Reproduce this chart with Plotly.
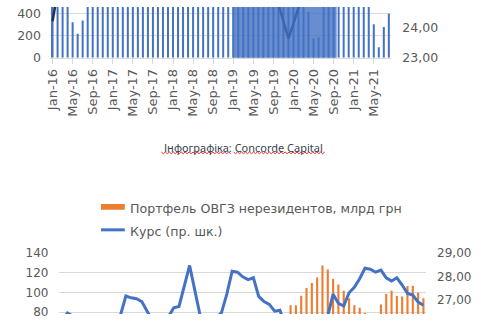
import plotly.graph_objects as go
import pandas as pd

W, H = 493, 321

# ---------------- data: upper chart (cut off at the top) ----------------
top_months = [d.strftime("%b-%y") for d in pd.date_range("2016-01-01", "2021-08-01", freq="MS")]
top_bars = [
    560, 600, 620, 580, 322, 217, 339, 600, 640, 650, 620, 700,   # 2016
    680, 660, 700, 720, 690, 710, 700, 720, 740, 760, 780, 800,   # 2017
    760, 740, 720, 700, 720, 740, 760, 780, 800, 780, 760, 740,   # 2018
    720, 700, 720, 740, 760, 780, 800, 780, 760, 740, 720, 700,   # 2019
    680, 660, 600, 417, 174, 183, 560, 600, 640, 660, 680, 700,   # 2020
    720, 700, 680, 620, 304, 96, 278, 400,                        # 2021
]
top_rate = [
    24.23, 24.90, 26.20, 25.90, 25.20, 25.00, 25.00, 25.10, 26.00, 25.80, 25.60, 26.20,
    27.10, 27.00, 27.00, 26.80, 26.50, 26.10, 26.00, 25.70, 26.00, 26.30, 26.60, 27.50,
    28.50, 27.10, 26.30, 26.20, 26.10, 26.20, 26.20, 27.40, 28.10, 28.20, 27.90, 27.70,
    27.90, 27.30, 27.00, 26.90, 26.60, 26.50, 25.70, 25.30, 25.00, 24.80, 24.20, 23.65,
    24.15, 24.70, 26.90, 27.00, 26.90, 26.70, 27.30, 27.50, 28.00, 28.30, 28.30, 28.30,
    28.20, 27.90, 27.70, 27.90, 27.50, 27.30, 27.30, 26.90,
]

# ---------------- data: lower chart (cut off at the bottom) ----------------
bot_months = [d.strftime("%b-%y") for d in pd.date_range("2016-01-01", "2021-09-01", freq="MS")]
bot_portfolio = [
    2, 2, 2, 2, 2, 2, 2, 2, 2, 2, 2, 2,                # 2016
    2, 2, 2, 2, 2, 2, 2, 2, 3, 3, 3, 3,                # 2017
    4, 4, 5, 5, 5, 6, 6, 6, 7, 7, 7, 7,                # 2018
    14, 20, 28, 42, 51, 60, 70, 87.0, 87.2, 96.8, 104.5, 109.6,   # 2019
    115.2, 127.4, 123.3, 113.9, 108.1, 101.7, 94.3, 87.2, 84.6, 79.3, 75, 73,  # 2020
    87.8, 98.5, 101.7, 96.5, 95.9, 106.5, 106.8, 100.1, 94.3,              # 2021
]
bot_rate = [
    26.10, 26.43, 26.30, 25.50, 25.10, 24.90, 24.80, 24.90, 25.80, 25.70, 25.90, 26.35,
    27.16, 27.08, 27.04, 26.92, 26.51, 26.10, 26.00, 25.90, 26.27, 26.65, 26.71, 27.55,
    28.47, 27.38, 26.30, 26.20, 26.10, 26.20, 26.45, 27.24, 28.22, 28.18, 27.98, 27.86,
    27.94, 27.14, 26.92, 26.80, 26.51, 26.55, 25.60, 25.20, 25.00, 24.60, 24.20, 23.70,
    24.10, 24.70, 26.30, 27.24, 26.84, 26.73, 27.30, 27.53, 27.90, 28.35, 28.31, 28.18,
    28.27, 27.94, 27.80, 27.94, 27.63, 27.27, 27.20, 26.90, 26.76,
]

legend_bar = "Портфель ОВГЗ нерезидентов, млрд грн"
legend_line = "Курс (пр. шк.)"
caption = "Інфографіка: Concorde Capital"

FONT = "DejaVu Sans"
GRAY = "#595959"
GRID = "#d9d9d9"


def px(x):
    return x / W


def py(y):
    return 1 - y / H


fig = go.Figure()
fig.add_trace(go.Bar(x=top_months, y=top_bars, marker_color="#4472c4",
                     marker_line_width=0, xaxis="x", yaxis="y", showlegend=False))
fig.add_trace(go.Scatter(x=top_months, y=top_rate, mode="lines",
                         line=dict(color="#253352", width=2.5),
                         xaxis="x", yaxis="y2", showlegend=False))
fig.add_trace(go.Bar(x=bot_months, y=bot_portfolio, marker_color="#ed7d31",
                     marker_line_width=0, xaxis="x2", yaxis="y3", showlegend=False))
fig.add_trace(go.Scatter(x=bot_months, y=bot_rate, mode="lines",
                         line=dict(color="#4472c4", width=3),
                         xaxis="x2", yaxis="y4", showlegend=False))

tick_font = dict(family=FONT, size=12, color=GRAY)

shapes = [
    # highlight over the upper chart
    dict(type="rect", xref="x", yref="y domain", x0=35.9, x1=56.6, y0=0, y1=1,
         fillcolor="rgba(68,114,196,0.8)", line_width=0, layer="above"),
    # custom legend swatches
    dict(type="rect", xref="paper", yref="paper", x0=px(97), x1=px(121),
         y0=py(212), y1=py(206), fillcolor="#ed7d31", line_width=0),
    dict(type="line", xref="paper", yref="paper", x0=px(97), x1=px(121),
         y0=py(233), y1=py(233), line=dict(color="#4472c4", width=3)),
]

# spell-check style wavy underline under the caption
for x0, x1 in [(158, 228), (231, 323)]:
    pts = []
    x = x0
    k = 0
    while x <= x1:
        yy = 152.5 + (0.9 if k % 2 else -0.9)
        pts.append(f"{px(x):.5f},{py(yy):.5f}")
        x += 2
        k += 1
    path = "M " + " L ".join(pts)
    shapes.append(dict(type="path", xref="paper", yref="paper", path=path,
                       line=dict(color="#e03030", width=1)))

annotations = [
    dict(text=legend_bar, xref="paper", yref="paper", x=px(124), y=py(210.5),
         xanchor="left", yanchor="middle", showarrow=False,
         font=dict(family=FONT, size=12.6, color=GRAY)),
    dict(text=legend_line, xref="paper", yref="paper", x=px(124), y=py(234.5),
         xanchor="left", yanchor="middle", showarrow=False,
         font=dict(family=FONT, size=12.6, color=GRAY)),
    dict(text=caption, xref="paper", yref="paper", x=px(240.5), y=py(147),
         xanchor="center", yanchor="middle", showarrow=False,
         font=dict(family="Noto Sans", size=11, color="#3a3f4e")),
]

fig.update_layout(
    width=W, height=H,
    margin=dict(l=0, r=0, t=0, b=0),
    paper_bgcolor="white", plot_bgcolor="white",
    separators=", ",
    bargap=0.6,
    showlegend=False,
    shapes=shapes,
    annotations=annotations,
    xaxis=dict(domain=[px(45.5), px(390.3)], anchor="y", type="category",
               range=[-0.5, 67.5], tickmode="array", tickvals=top_months[::4],
               tickangle=-90, ticks="outside", ticklen=5, tickcolor=GRID,
               showline=True, linecolor=GRID, showgrid=False,
               tickfont=dict(family=FONT, size=13, color=GRAY)),
    yaxis=dict(domain=[py(53), 1], anchor="x", range=[0, 461],
               tickvals=[0, 200, 400], showgrid=True, gridcolor=GRID,
               zeroline=False, ticks="", ticklabelstandoff=8,
               tickfont=dict(family=FONT, size=12.5, color=GRAY)),
    yaxis2=dict(overlaying="y", anchor="x", side="right",
                range=[23, 23 + 53 / 31], tickvals=[23, 24], tickformat=".2f",
                showgrid=False, zeroline=False, ticks="", ticklabelstandoff=10,
                tickfont=dict(family=FONT, size=12.5, color=GRAY)),
    xaxis2=dict(domain=[px(55), px(425.4)], anchor="y3", type="category",
                range=[-0.5, 68.5], showticklabels=False, showgrid=False,
                ticks="", showline=False),
    yaxis3=dict(domain=[0, 64 / H], anchor="x2", range=[78.2, 140.3],
                tickvals=[80, 100, 120, 140], showgrid=True, gridcolor=GRID,
                zeroline=False, ticks="", ticklabelstandoff=10, tickfont=tick_font),
    yaxis4=dict(overlaying="y3", anchor="x2", side="right",
                range=[27 - 15 / 24.5, 27 + 49.3 / 24.5], tickvals=[27, 28, 29],
                tickformat=".2f", showgrid=False, zeroline=False, ticks="",
                ticklabelstandoff=10, tickfont=tick_font),
)

fig.write_html("out.html")
